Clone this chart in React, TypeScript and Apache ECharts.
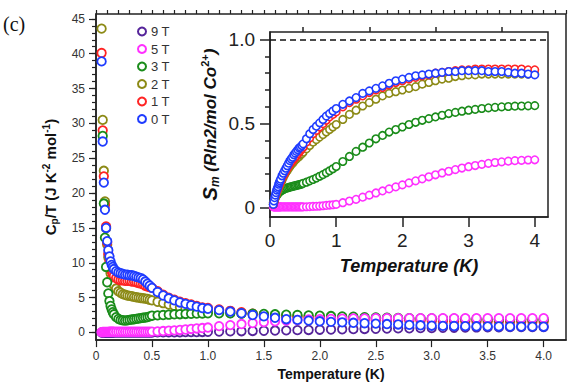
import React, { useEffect, useRef } from "react";
import * as echarts from "echarts";

// Temperature grid (K)
const T_LOW = [0.05, 0.06, 0.07, 0.08, 0.09, 0.1, 0.11, 0.12, 0.13, 0.14, 0.15, 0.16, 0.18, 0.2, 0.22, 0.24, 0.26, 0.28, 0.3, 0.32, 0.34, 0.36, 0.38, 0.4, 0.42, 0.44, 0.46, 0.48];
const T_MID = [0.5, 0.55, 0.6, 0.65, 0.7, 0.75, 0.8, 0.85, 0.9, 0.95, 1.0];
const T_HIGH = [1.1, 1.2, 1.3, 1.4, 1.5, 1.6, 1.7, 1.8, 1.9, 2.0, 2.1, 2.2, 2.3, 2.4, 2.5, 2.6, 2.7, 2.8, 2.9, 3.0, 3.1, 3.2, 3.3, 3.4, 3.5, 3.6, 3.7, 3.8, 3.9, 4.0];
const TEMPS = [...T_LOW, ...T_MID, ...T_HIGH];

// Main plot: Cp/T (J K^-2 mol^-1)
const CP_9T = [
  0, 0, 0, 0, 0, 0, 0, 0, 0, 0, 0, 0, 0, 0, 0, 0, 0, 0, 0, 0, 0, 0, 0, 0, 0, 0, 0, 0,
  0.0, 0.01, 0.01, 0.02, 0.02, 0.03, 0.04, 0.05, 0.06, 0.07, 0.09,
  0.12, 0.15, 0.18, 0.21, 0.24, 0.27, 0.3, 0.33, 0.36, 0.39, 0.42, 0.45, 0.48, 0.5, 0.53, 0.55, 0.58, 0.6, 0.62, 0.64, 0.66, 0.68, 0.7, 0.72, 0.73, 0.75, 0.76, 0.77, 0.78, 0.79,
];
const CP_5T = [
  0.05, 0.06, 0.07, 0.08, 0.08, 0.08, 0.08, 0.09, 0.09, 0.09, 0.09, 0.09, 0.1, 0.1, 0.1, 0.1, 0.1, 0.1, 0.1, 0.1, 0.1, 0.1, 0.1, 0.1, 0.1, 0.1, 0.1, 0.1,
  0.12, 0.15, 0.2, 0.25, 0.3, 0.36, 0.42, 0.5, 0.57, 0.63, 0.7,
  0.9, 1.05, 1.2, 1.35, 1.48, 1.6, 1.7, 1.78, 1.85, 1.9, 1.95, 1.98, 2.0, 2.02, 2.04, 2.05, 2.05, 2.05, 2.05, 2.05, 2.05, 2.05, 2.05, 2.05, 2.05, 2.05, 2.05, 2.05, 2.05, 2.05,
];
const CP_3T = [
  null, 28.2, 18.5, 13.6, 9.4, 7.2, 5.6, 4.5, 3.8, 3.3, 2.9, 2.6, 2.2, 1.95, 1.8, 1.75, 1.7, 1.75, 1.8, 1.85, 1.9, 1.95, 2.0, 2.05, 2.1, 2.15, 2.2, 2.3,
  2.4, 2.45, 2.5, 2.55, 2.6, 2.62, 2.65, 2.68, 2.7, 2.72, 2.75,
  2.75, 2.75, 2.72, 2.7, 2.65, 2.6, 2.55, 2.5, 2.45, 2.4, 2.35, 2.3, 2.25, 2.2, 2.15, 2.1, 2.08, 2.05, 2.02, 2.0, 1.98, 1.96, 1.94, 1.92, 1.91, 1.9, 1.89, 1.88, 1.87, 1.86,
];
const CP_2T = [
  43.6, 30.5, 23.2, 18.8, 15.0, 12.6, 10.8, 9.5, 8.5, 7.8, 7.2, 6.8, 6.3, 5.9, 5.7, 5.5, 5.4, 5.3, 5.25, 5.2, 5.1, 5.05, 5.0, 4.95, 4.9, 4.85, 4.8, 4.7,
  4.6, 4.4, 4.2, 4.0, 3.8, 3.6, 3.45, 3.3, 3.2, 3.1, 3.0,
  2.9, 2.8, 2.7, 2.6, 2.5, 2.45, 2.4, 2.35, 2.3, 2.25, 2.2, 2.15, 2.1, 2.05, 2.0, 2.0, 1.97, 1.95, 1.93, 1.92, 1.9, 1.89, 1.88, 1.87, 1.86, 1.85, 1.84, 1.83, 1.82, 1.81,
];
const CP_1T = [
  40.1, 29.0, 22.4, 18.3, 15.2, 12.9, 11.3, 10.2, 9.4, 8.8, 8.4, 8.1, 7.8, 7.6, 7.5, 7.5, 7.4, 7.4, 7.4, 7.3, 7.3, 7.2, 7.1, 7.0, 6.9, 6.7, 6.6, 6.5,
  6.4, 5.9, 5.4, 5.0, 4.7, 4.4, 4.2, 4.0, 3.8, 3.6, 3.5,
  3.3, 3.1, 2.9, 2.7, 2.55, 2.4, 2.3, 2.2, 2.1, 2.0, 1.95, 1.9, 1.85, 1.8, 1.75, 1.72, 1.7, 1.68, 1.66, 1.64, 1.62, 1.6, 1.59, 1.58, 1.57, 1.56, 1.55, 1.54, 1.53, 1.52,
];
const CP_0T = [
  38.9, 27.4, 21.5, 17.6, 15.0, 13.1, 11.8, 10.9, 10.2, 9.7, 9.4, 9.1, 8.8, 8.6, 8.5, 8.4, 8.3, 8.3, 8.2, 8.2, 8.1, 8.0, 7.9, 7.8, 7.6, 7.3, 7.0, 6.7,
  6.4, 5.8, 5.3, 4.9, 4.6, 4.3, 4.1, 3.9, 3.7, 3.5, 3.4,
  3.2, 3.0, 2.75, 2.5, 2.3, 2.1, 1.9, 1.8, 1.7, 1.6, 1.52, 1.45, 1.38, 1.32, 1.27, 1.2, 1.15, 1.08, 1.02, 0.97, 0.94, 0.92, 0.9, 0.88, 0.87, 0.86, 0.85, 0.84, 0.83, 0.82,
];

// Inset: Sm (Rln2 / mol Co2+)
const S_5T = [
  0.005, 0.005, 0.005, 0.005, 0.005, 0.005, 0.005, 0.005, 0.005, 0.005, 0.005, 0.005, 0.005, 0.005, 0.005, 0.005, 0.005, 0.005, 0.005, 0.005, 0.005, 0.005, 0.005, 0.005, 0.005, 0.005, 0.005, 0.005,
  0.005, 0.006, 0.007, 0.008, 0.009, 0.01, 0.012, 0.014, 0.016, 0.018, 0.02,
  0.03, 0.04, 0.05, 0.063, 0.075, 0.088, 0.1, 0.112, 0.124, 0.136, 0.148, 0.16, 0.172, 0.184, 0.196, 0.207, 0.217, 0.227, 0.236, 0.244, 0.251, 0.258, 0.264, 0.269, 0.273, 0.277, 0.28, 0.282, 0.284, 0.285,
];
const S_3T = [
  0.03, 0.04, 0.05, 0.06, 0.07, 0.075, 0.08, 0.085, 0.09, 0.093, 0.096, 0.099, 0.104, 0.108, 0.112, 0.115, 0.118, 0.12, 0.123, 0.125, 0.127, 0.129, 0.131, 0.133, 0.135, 0.137, 0.139, 0.141,
  0.145, 0.152, 0.16, 0.168, 0.177, 0.187, 0.197, 0.208, 0.22, 0.232, 0.245,
  0.275, 0.305, 0.335, 0.36, 0.385, 0.41, 0.43, 0.45, 0.465, 0.48, 0.495, 0.508, 0.52, 0.53, 0.54, 0.55, 0.56, 0.567, 0.574, 0.58, 0.585, 0.59, 0.594, 0.597, 0.6, 0.602, 0.604, 0.605, 0.606, 0.607,
];
const S_2T = [
  0.02, 0.03, 0.045, 0.06, 0.07, 0.085, 0.095, 0.105, 0.115, 0.125, 0.135, 0.145, 0.16, 0.18, 0.195, 0.21, 0.22, 0.235, 0.245, 0.255, 0.265, 0.275, 0.285, 0.29, 0.3, 0.305, 0.315, 0.32,
  0.33, 0.35, 0.37, 0.39, 0.405, 0.42, 0.435, 0.45, 0.465, 0.48, 0.495,
  0.525, 0.555, 0.58, 0.605, 0.625, 0.645, 0.665, 0.68, 0.69, 0.7, 0.71, 0.72, 0.735, 0.745, 0.755, 0.765, 0.77, 0.78, 0.785, 0.79, 0.79, 0.795, 0.795, 0.795, 0.795, 0.795, 0.795, 0.795, 0.795, 0.795,
];
const S_1T = [
  0.02, 0.035, 0.05, 0.065, 0.08, 0.095, 0.105, 0.115, 0.125, 0.135, 0.145, 0.155, 0.175, 0.19, 0.205, 0.22, 0.235, 0.25, 0.26, 0.27, 0.28, 0.29, 0.3, 0.31, 0.32, 0.33, 0.34, 0.35,
  0.36, 0.39, 0.415, 0.44, 0.46, 0.48, 0.5, 0.52, 0.54, 0.555, 0.57,
  0.6, 0.625, 0.645, 0.665, 0.685, 0.7, 0.715, 0.73, 0.745, 0.755, 0.765, 0.775, 0.785, 0.79, 0.8, 0.805, 0.81, 0.815, 0.82, 0.82, 0.825, 0.825, 0.825, 0.825, 0.825, 0.825, 0.825, 0.825, 0.82, 0.82,
];
const S_0T = [
  0.02, 0.04, 0.06, 0.075, 0.09, 0.105, 0.115, 0.125, 0.14, 0.15, 0.16, 0.17, 0.19, 0.205, 0.22, 0.235, 0.25, 0.265, 0.28, 0.29, 0.3, 0.315, 0.325, 0.335, 0.345, 0.355, 0.36, 0.37,
  0.38, 0.41, 0.44, 0.465, 0.485, 0.505, 0.525, 0.545, 0.56, 0.575, 0.59,
  0.615, 0.635, 0.655, 0.68, 0.695, 0.71, 0.725, 0.74, 0.755, 0.765, 0.775, 0.785, 0.79, 0.795, 0.8, 0.805, 0.81, 0.81, 0.815, 0.815, 0.815, 0.815, 0.81, 0.81, 0.81, 0.805, 0.8, 0.8, 0.795, 0.79,
];

const FIELDS = ["9 T", "5 T", "3 T", "2 T", "1 T", "0 T"];
const COLORS: Record<string, string> = {
  "9 T": "#55249a",
  "5 T": "#ff30ff",
  "3 T": "#1a8c1a",
  "2 T": "#8c8a16",
  "1 T": "#ff2424",
  "0 T": "#1f3cff",
};

const MAIN_X_TICKS = [0, 0.5, 1.0, 1.5, 2.0, 2.5, 3.0, 3.5, 4.0];
const MAIN_Y_TICKS = [0, 5, 10, 15, 20, 25, 30, 35, 40, 45];
const INSET_X_TICKS = [0, 1, 2, 3, 4];
const INSET_X_MINOR = [0.5, 1.5, 2.5, 3.5];
const INSET_Y_TICKS = [0, 0.5, 1.0];
const INSET_Y_MINOR = [0.1, 0.2, 0.3, 0.4, 0.6, 0.7, 0.8, 0.9];
const ENTROPY_LIMIT = 1.0;

const MAIN_X_MINOR = Array.from({ length: 43 }, (_, i) => i / 10);
const MAIN_Y_MINOR = Array.from({ length: 46 }, (_, i) => i);

const FONT = "'Liberation Sans', Arial, sans-serif";

function pairs(vals: (number | null)[]) {
  const out: number[][] = [];
  TEMPS.forEach((t, i) => {
    const v = vals[i];
    if (v !== null && v !== undefined) out.push([t, v]);
  });
  return out;
}

const fmt1 = (v: number) => (Math.abs(v) < 1e-9 ? "0" : v.toFixed(1));

export default function App() {
  const ref = useRef<HTMLDivElement>(null);
  useEffect(() => {
    if (!ref.current) return;
    const chart = echarts.init(ref.current, undefined, { renderer: "svg" });

    const mainOrder: [string, (number | null)[]][] = [
      ["9 T", CP_9T],
      ["2 T", CP_2T],
      ["1 T", CP_1T],
      ["3 T", CP_3T],
      ["5 T", CP_5T],
      ["0 T", CP_0T],
    ];
    const insetOrder: [string, number[]][] = [
      ["5 T", S_5T],
      ["3 T", S_3T],
      ["2 T", S_2T],
      ["1 T", S_1T],
      ["0 T", S_0T],
    ];

    const mainSeries = mainOrder.map(([name, vals]) => ({
      name,
      type: "scatter",
      xAxisIndex: 0,
      yAxisIndex: 0,
      data: pairs(vals),
      symbol: "circle",
      symbolSize: 8.5,
      itemStyle: { color: "#ffffff", borderColor: COLORS[name], borderWidth: 1.8, opacity: 1 },
      z: 2,
    }));
    const insetSeries = insetOrder.map(([name, vals], idx) => ({
      name: "Sm " + name,
      type: "scatter",
      xAxisIndex: 2,
      yAxisIndex: 2,
      data: pairs(vals),
      symbol: "circle",
      symbolSize: 7.5,
      itemStyle: { color: "#ffffff", borderColor: COLORS[name], borderWidth: 1.6, opacity: 1 },
      z: 3,
      markLine:
        idx === 0
          ? {
              silent: true,
              symbol: "none",
              label: { show: false },
              lineStyle: { color: "#111", type: [6, 4], width: 1.6 },
              data: [{ yAxis: ENTROPY_LIMIT }],
            }
          : undefined,
    }));

    const axisLineStyle = { color: "#222", width: 1.5 };

    chart.setOption({
      animation: false,
      backgroundColor: "#ffffff",
      textStyle: { fontFamily: FONT },
      graphic: [
        {
          type: "text",
          left: 3,
          top: 14,
          style: { text: "(c)", font: "20px 'Liberation Serif', 'Times New Roman', serif", fill: "#111" },
        },
      ],
      legend: {
        orient: "vertical",
        left: 132,
        top: 20,
        itemWidth: 8,
        itemHeight: 8,
        itemGap: 4.5,
        itemTextGap: 10,
        selectedMode: false,
        textStyle: { fontSize: 13, color: "#333", fontFamily: FONT, lineHeight: 13 },
        data: FIELDS.map((name) => ({
          name,
          icon: "circle",
          itemStyle: { color: "#ffffff", borderColor: COLORS[name], borderWidth: 2 },
        })),
      },
      grid: [
        { left: 96, top: 14, right: 7, bottom: 44, show: true, borderColor: "#222", borderWidth: 1.5, backgroundColor: "transparent" },
        { left: 270, top: 32, right: 25, bottom: 169, show: true, borderColor: "#222", borderWidth: 1.5, backgroundColor: "transparent" },
      ],
      xAxis: [
        {
          gridIndex: 0,
          type: "value",
          min: 0,
          max: 4.2,
          axisLine: { onZero: false, lineStyle: axisLineStyle },
          axisTick: { customValues: MAIN_X_TICKS, length: 7, lineStyle: { color: "#222", width: 1.2 } },
          axisLabel: { customValues: MAIN_X_TICKS, formatter: fmt1, fontSize: 12, color: "#333", margin: 10, fontFamily: FONT },
          splitLine: { show: false },
          name: "Temperature (K)",
          nameLocation: "middle",
          nameGap: 25,
          nameTextStyle: { fontWeight: "bold", fontSize: 14, color: "#111", fontFamily: FONT },
        },
        {
          gridIndex: 0,
          type: "value",
          min: 0,
          max: 4.2,
          axisLine: { show: false, onZero: false },
          axisTick: { customValues: MAIN_X_MINOR, length: 4, lineStyle: { color: "#222", width: 1.2 } },
          axisLabel: { show: false },
          splitLine: { show: false },
        },
        {
          gridIndex: 1,
          type: "value",
          min: 0,
          max: 4.2,
          axisLine: { onZero: false, lineStyle: axisLineStyle },
          axisTick: { customValues: INSET_X_TICKS, length: 10, lineStyle: { color: "#222", width: 1.5 } },
          axisLabel: { customValues: INSET_X_TICKS, fontSize: 19, color: "#222", margin: 14, fontFamily: FONT },
          splitLine: { show: false },
          name: "Temperature (K)",
          nameLocation: "middle",
          nameGap: 40,
          nameTextStyle: { fontWeight: "bold", fontStyle: "italic", fontSize: 18, color: "#111", fontFamily: FONT },
        },
        {
          gridIndex: 1,
          type: "value",
          min: 0,
          max: 4.2,
          axisLine: { show: false, onZero: false },
          axisTick: { customValues: INSET_X_MINOR, length: 5, lineStyle: { color: "#222", width: 1.5 } },
          axisLabel: { show: false },
          splitLine: { show: false },
        },
      ],
      yAxis: [
        {
          gridIndex: 0,
          type: "value",
          min: -1.1,
          max: 45.7,
          axisLine: { onZero: false, lineStyle: axisLineStyle },
          axisTick: { customValues: MAIN_Y_TICKS, length: 7, lineStyle: { color: "#222", width: 1.2 } },
          axisLabel: { customValues: MAIN_Y_TICKS, fontSize: 12, color: "#333", margin: 11, fontFamily: FONT },
          splitLine: { show: false },
          name: "{b|C}{sub|p}{b|/T (J K}{sup|-2}{b| mol}{sup|-1}{b|)}",
          nameLocation: "middle",
          nameGap: 37,
          nameTextStyle: {
            color: "#111",
            rich: {
              b: { fontWeight: "bold", fontSize: 15, color: "#111", fontFamily: FONT, lineHeight: 18 },
              sub: { fontWeight: "bold", fontSize: 10, color: "#111", fontFamily: FONT, verticalAlign: "bottom", lineHeight: 12 },
              sup: { fontWeight: "bold", fontSize: 10, color: "#111", fontFamily: FONT, verticalAlign: "top", lineHeight: 12 },
            },
          },
        },
        {
          gridIndex: 0,
          type: "value",
          min: -1.1,
          max: 45.7,
          position: "left",
          axisLine: { show: false, onZero: false },
          axisTick: { customValues: MAIN_Y_MINOR, length: 4, lineStyle: { color: "#222", width: 1.2 } },
          axisLabel: { show: false },
          splitLine: { show: false },
        },
        {
          gridIndex: 1,
          type: "value",
          min: -0.055,
          max: 1.045,
          axisLine: { onZero: false, lineStyle: axisLineStyle },
          axisTick: { customValues: INSET_Y_TICKS, length: 10, lineStyle: { color: "#222", width: 1.5 } },
          axisLabel: { customValues: INSET_Y_TICKS, formatter: fmt1, fontSize: 19, color: "#222", margin: 15, fontFamily: FONT },
          splitLine: { show: false },
          name: "{s|S}{sub|m}{t| (Rln2/mol Co}{sup|2+}{t|)}",
          nameLocation: "middle",
          nameGap: 49,
          nameTextStyle: {
            color: "#111",
            rich: {
              s: { fontWeight: "bold", fontStyle: "italic", fontSize: 20, color: "#111", fontFamily: FONT, lineHeight: 22 },
              t: { fontWeight: "bold", fontStyle: "italic", fontSize: 17, color: "#111", fontFamily: FONT, lineHeight: 22 },
              sub: { fontWeight: "bold", fontStyle: "italic", fontSize: 12, color: "#111", fontFamily: FONT, verticalAlign: "bottom", lineHeight: 14 },
              sup: { fontWeight: "bold", fontSize: 11, color: "#111", fontFamily: FONT, verticalAlign: "top", lineHeight: 14 },
            },
          },
        },
        {
          gridIndex: 1,
          type: "value",
          min: -0.055,
          max: 1.045,
          position: "left",
          axisLine: { show: false, onZero: false },
          axisTick: { customValues: INSET_Y_MINOR, length: 5, lineStyle: { color: "#222", width: 1.5 } },
          axisLabel: { show: false },
          splitLine: { show: false },
        },
      ],
      series: [...mainSeries, ...insetSeries],
    });

    return () => chart.dispose();
  }, []);

  return <div ref={ref} style={{ width: 573, height: 386, position: "absolute", left: 0, top: 0 }} />;
}
